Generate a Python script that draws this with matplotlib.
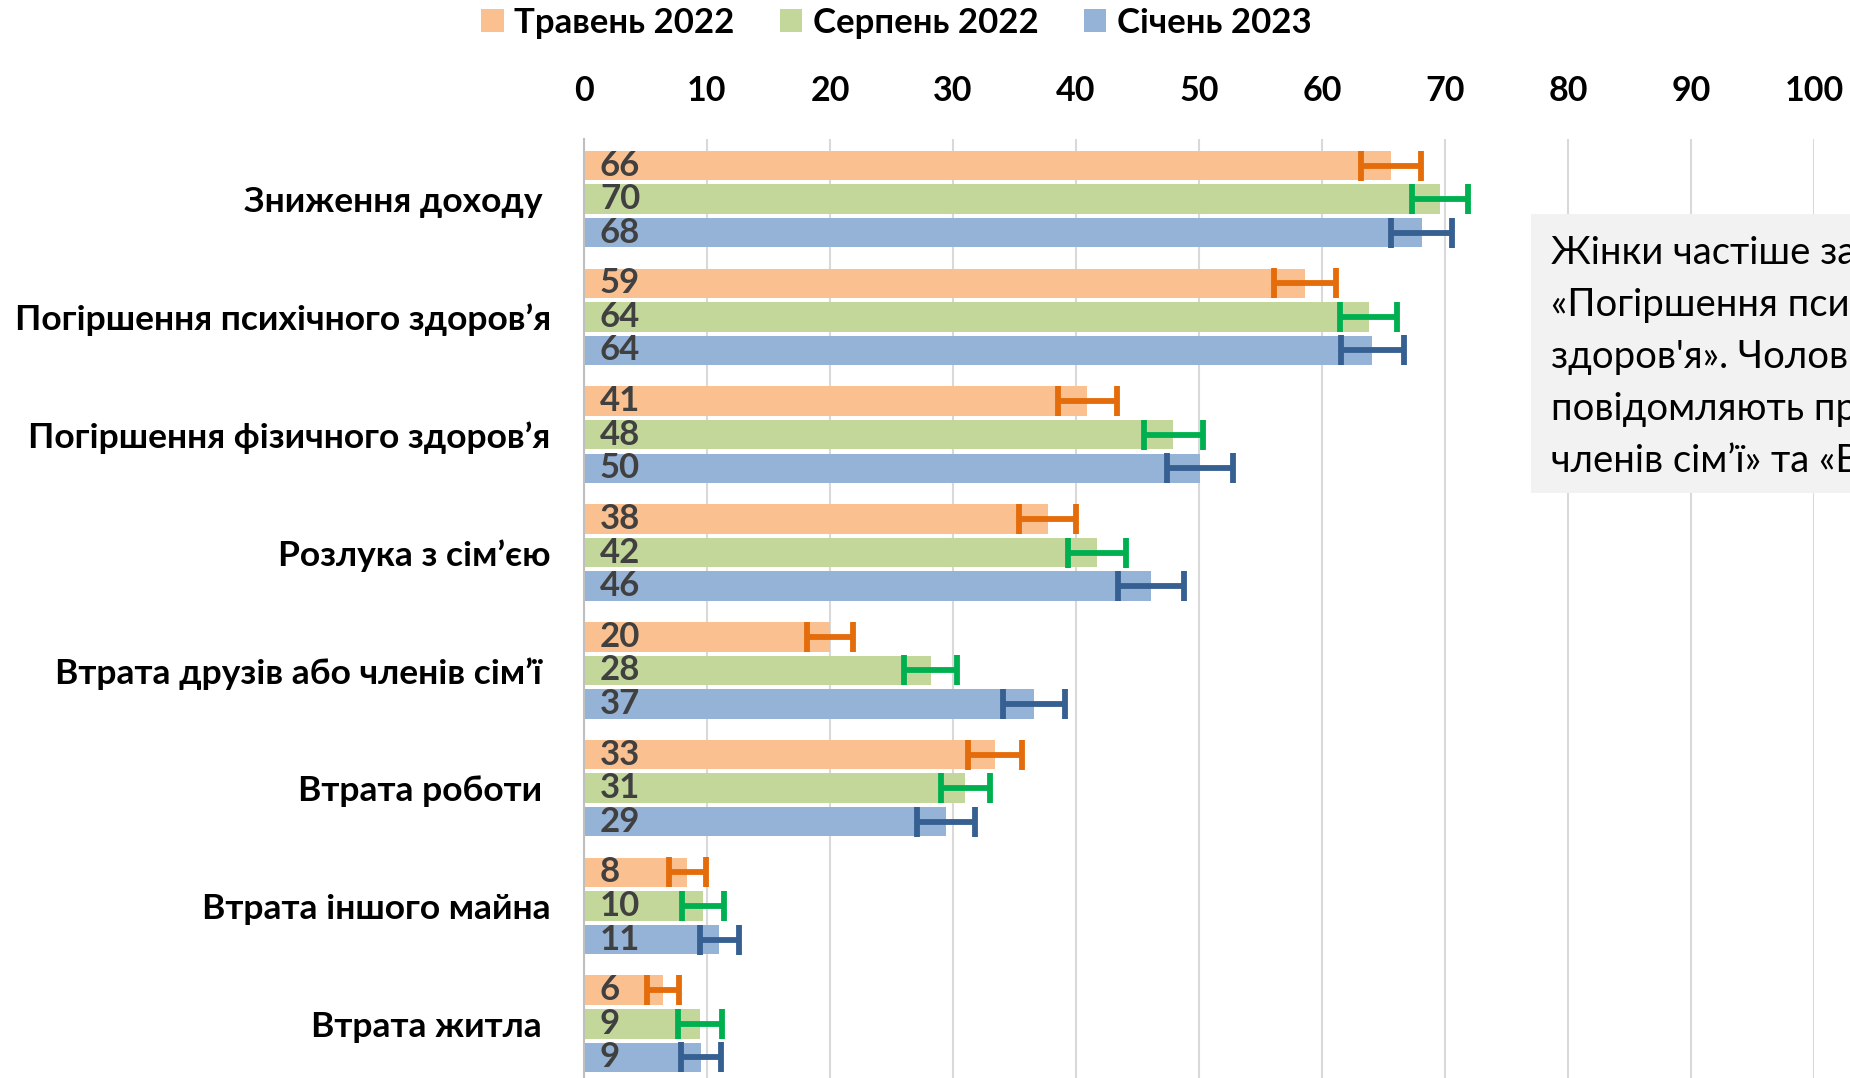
import numpy as np
import matplotlib.pyplot as plt
from matplotlib.patches import Rectangle

plt.rcParams['font.family'] = ['Lato', 'DejaVu Sans']

categories = ['Зниження доходу ', 'Погіршення психічного здоров’я', 'Погіршення фізичного здоров’я',
              'Розлука з сім’єю', 'Втрата друзів або членів сім’ї ', 'Втрата роботи ',
              'Втрата іншого майна', 'Втрата житла ']
series_names = ['Травень 2022', 'Серпень 2022', 'Січень 2023']

may22 = [65.6, 58.6, 40.9, 37.7, 20.0, 33.4, 8.4, 6.4]
aug22 = [69.6, 63.8, 47.9, 41.7, 28.2, 31.0, 9.7, 9.45]
jan23 = [68.1, 64.1, 50.1, 46.1, 36.6, 29.4, 11.0, 9.5]

may22_lab = [66, 59, 41, 38, 20, 33, 8, 6]
aug22_lab = [70, 64, 48, 42, 28, 31, 10, 9]
jan23_lab = [68, 64, 50, 46, 37, 29, 11, 9]

may22_err = [2.45, 2.5, 2.4, 2.3, 1.9, 2.2, 1.5, 1.3]
aug22_err = [2.3, 2.3, 2.4, 2.35, 2.15, 2.0, 1.7, 1.8]
jan23_err = [2.5, 2.55, 2.7, 2.65, 2.5, 2.35, 1.6, 1.6]

bar_colors = ['#FAC090', '#C4D79B', '#95B3D7']
err_colors = ['#E46C0A', '#00B050', '#376092']

note_lines = ['Жінки частіше за чоловіків повідомляють про',
              '«Погіршення психічного',
              'здоров\'я». Чоловіки частіше',
              'повідомляють про «Втрату друзів або',
              'членів сім’ї» та «Втрату роботи».']

W, H = 1850, 1078
fig = plt.figure(figsize=(W / 100, H / 100), dpi=100)
ax = fig.add_axes([584 / W, 0, (1814 - 584) / W, 1 - 139 / H])

y = np.arange(len(categories))
off = 0.285
data = [(may22, may22_err, may22_lab), (aug22, aug22_err, aug22_lab), (jan23, jan23_err, jan23_lab)]
for k, (vals, errs, labs) in enumerate(data):
    pos = y + (k - 1) * off
    ax.barh(pos, vals, height=0.25, color=bar_colors[k], label=series_names[k], zorder=2)
    ax.errorbar(vals, pos, xerr=errs, fmt='none', ecolor=err_colors[k],
                elinewidth=4.2, capsize=11, capthick=4.2, zorder=3)
    for p, l in zip(pos, labs):
        ax.text(1.3, p, str(l), va='center', ha='left', fontsize=25,
                fontweight='bold', color='#404040', zorder=4)

ax.set_xlim(0, 100)
ax.set_ylim(7.46, -0.51)
ax.xaxis.tick_top()
ax.set_xticks(range(0, 101, 10))
ax.tick_params(axis='x', length=0, pad=23, labelsize=24.5)
ax.set_yticks(y, categories)
ax.tick_params(axis='y', length=0, pad=24, labelsize=25.5)
for t in ax.get_xticklabels() + ax.get_yticklabels():
    t.set_fontweight('bold')
ax.grid(axis='x', color='#D9D9D9', lw=1.5, zorder=0)
for s in ['top', 'right', 'bottom']:
    ax.spines[s].set_visible(False)
ax.spines['left'].set_color('#BFBFBF')
ax.spines['left'].set_linewidth(1.5)

leg = fig.legend(loc='center', bbox_to_anchor=(0.4845, 0.979), ncol=3, frameon=False,
                 handlelength=0.65, handleheight=0.65, handletextpad=0.3, columnspacing=1.3,
                 prop={'size': 25, 'weight': 'bold'})

fig.patches.append(Rectangle((1531 / W, 1 - 493 / H), 1, (493 - 214) / H,
                             transform=fig.transFigure, facecolor='#F2F2F2', edgecolor='none', zorder=5))
for i, line in enumerate(note_lines):
    fig.text(1551 / W, 1 - (253 + i * 52) / H, line, fontsize=27.5, va='center', ha='left',
             color='black', zorder=6)

fig.savefig('out.png', dpi=100)
